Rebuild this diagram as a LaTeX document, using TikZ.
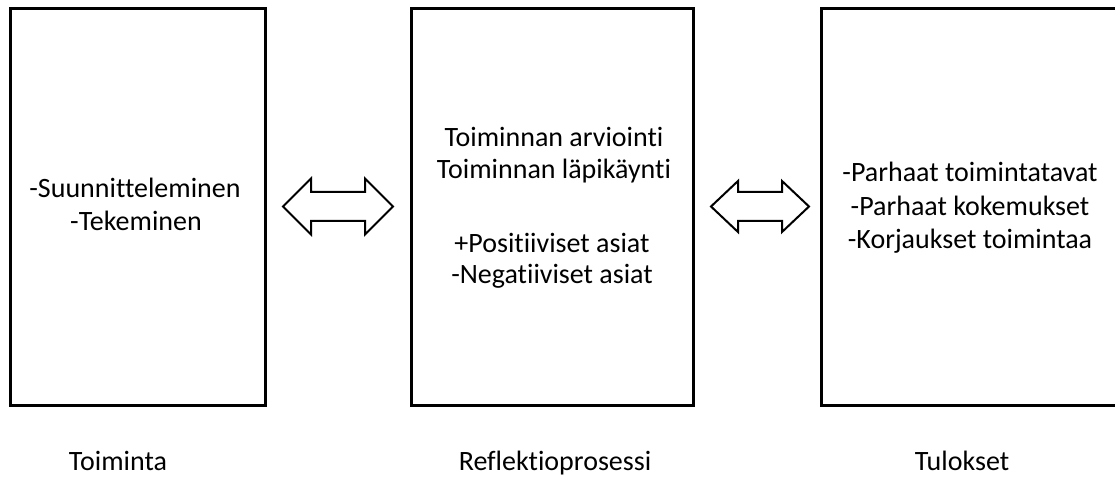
\documentclass[tikz,border=0pt]{standalone}
\usepackage{fontspec}
\setmainfont{Carlito}[Ligatures={NoCommon,NoRare,NoContextual},RawFeature={-liga;-clig;-dlig}]
\begin{document}
\begin{tikzpicture}[x=1pt,y=-1pt,
  box/.style={draw=black,line width=3pt},
  txt/.style={font=\fontsize{28}{33}\selectfont,anchor=base,inner sep=0pt},
  dblarrow/.style={draw=black,line width=2pt,fill=white,line join=miter}]
\useasboundingbox (0,0) rectangle (1115,478);
% boxes
\draw[box] (10.5,8.5) rectangle (265.5,405);
\draw[box] (411,8.5) rectangle (693,405);
\draw[box] (821,8.5) rectangle (1130,405);
% left box text
\node[txt] (l1) at (135,198) {-Suunnitteleminen};
\node[txt] (l2) at (136,230) {-Tekeminen};
% middle box text
\node[txt] (m1) at (554,147) {Toiminnan arviointi};
\node[txt] (m2) at (554,179) {Toiminnan läpikäynti};
\node[txt] (m3) at (552,252) {+Positiiviset asiat};
\node[txt] (m4) at (552,283) {-Negatiiviset asiat};
% right box text
\node[txt] (r1) at (970,182) {-Parhaat toimintatavat};
\node[txt] (r2) at (970,215) {-Parhaat kokemukset};
\node[txt] (r3) at (970,248) {-Korjaukset toimintaa};
% captions
\node[txt] (c1) at (118,470) {Toiminta};
\node[txt] (c2) at (555,470) {Reflektioprosessi};
\node[txt] (c3) at (962,470) {Tulokset};
% double arrows
\coordinate (a1) at (338,206.5);
\draw[dblarrow] ([shift={(-55,0)}]a1) -- ([shift={(-27,-28)}]a1) -- ([shift={(-27,-14.5)}]a1)
  -- ([shift={(27,-14.5)}]a1) -- ([shift={(27,-28)}]a1) -- ([shift={(55,0)}]a1)
  -- ([shift={(27,28)}]a1) -- ([shift={(27,14.5)}]a1) -- ([shift={(-27,14.5)}]a1)
  -- ([shift={(-27,28)}]a1) -- cycle;
\coordinate (a2) at (760,206.5);
\draw[dblarrow] ([shift={(-49,0)}]a2) -- ([shift={(-22,-25.5)}]a2) -- ([shift={(-22,-14.5)}]a2)
  -- ([shift={(22,-14.5)}]a2) -- ([shift={(22,-25.5)}]a2) -- ([shift={(49,0)}]a2)
  -- ([shift={(22,25.5)}]a2) -- ([shift={(22,14.5)}]a2) -- ([shift={(-22,14.5)}]a2)
  -- ([shift={(-22,25.5)}]a2) -- cycle;
\end{tikzpicture}
\end{document}
